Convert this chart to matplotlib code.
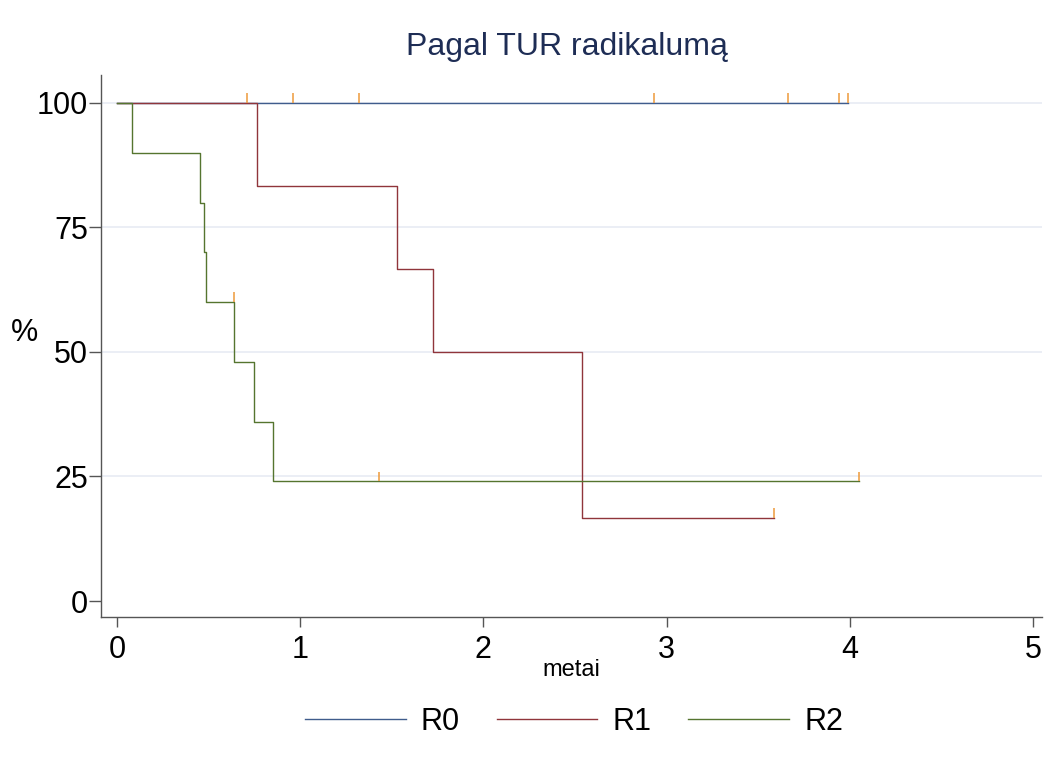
import numpy as np
import matplotlib.pyplot as plt

plt.rcParams['font.family'] = ['Liberation Sans', 'DejaVu Sans']

# Kaplan-Meier kreivės pagal TUR radikalumą (laikas metais, išgyvenamumas %)
r0_times = [0.0]
r0_surv = [100.0]
r0_end = 3.99
r0_cens = [0.71, 0.96, 1.32, 2.93, 3.66, 3.94, 3.99]

r1_times = [0.0, 0.763, 1.530, 1.725, 2.536]
r1_surv = [100.0, 83.33, 66.67, 50.0, 16.67]
r1_end = 3.586
r1_cens = [3.586]

r2_times = [0.0, 0.080, 0.455, 0.474, 0.485, 0.640, 0.750, 0.849]
r2_surv = [100.0, 90.0, 80.0, 70.0, 60.0, 48.0, 36.0, 24.0]
r2_end = 4.049
r2_cens = [0.638, 1.432, 4.049]

groups = ['R0', 'R1', 'R2']
colors = ['#3f5c8c', '#90353b', '#55752f']
cens_color = '#ee9a3a'


def surv_at(times, surv, t):
    idx = np.searchsorted(times, t, side='right') - 1
    return np.asarray(surv)[idx]


fig = plt.figure(figsize=(10.59, 7.76), dpi=100)
ax = fig.add_axes([101 / 1059, 1 - 617 / 776, (1042 - 101) / 1059, (617 - 75) / 776])

for y in [25, 50, 75, 100]:
    ax.axhline(y, color='#e6eaf3', lw=1.1, zorder=0)

series = [(r0_times, r0_surv, r0_end, r0_cens),
          (r1_times, r1_surv, r1_end, r1_cens),
          (r2_times, r2_surv, r2_end, r2_cens)]

handles = []
for (t, s, end, cens), name, col in zip(series, groups, colors):
    tt = list(t) + [end]
    ss = list(s) + [s[-1]]
    h, = ax.step(tt, ss, where='post', color=col, lw=1.0, label=name, zorder=2)
    handles.append(h)
    lev = surv_at(t, s, cens)
    ax.vlines(cens, lev, lev + 2.0, color=cens_color, lw=1.1, zorder=3)

ax.set_xlim(-0.0873, 5.049)
ax.set_ylim(-3.21, 105.6)
ax.set_xticks([0, 1, 2, 3, 4, 5])
ax.set_yticks([0, 25, 50, 75, 100])

for side in ['top', 'right']:
    ax.spines[side].set_visible(False)
for side in ['left', 'bottom']:
    ax.spines[side].set_color('#555555')
    ax.spines[side].set_linewidth(1.0)

ax.tick_params(axis='y', length=8.5, width=1.0, color='#555555', pad=1, labelsize=22)
ax.tick_params(axis='x', length=7, width=1.0, color='#555555', pad=6, labelsize=22)

ax.set_xlabel('metai', fontsize=17, labelpad=-4)
fig.text(25 / 1059, 1 - 333 / 776, '%', fontsize=22, ha='center', va='center')

fig.suptitle('Pagal TUR radikalumą', x=567 / 1059, y=1 - 47 / 776, va='center',
             fontsize=23, color='#1e2d55')

fig.legend(handles=handles, labels=groups, loc='center', ncol=3,
           bbox_to_anchor=(574 / 1059, 1 - 722 / 776), frameon=False,
           fontsize=22, handlelength=3.3, handletextpad=0.5, columnspacing=1.2)

fig.savefig('out.png', dpi=100)
